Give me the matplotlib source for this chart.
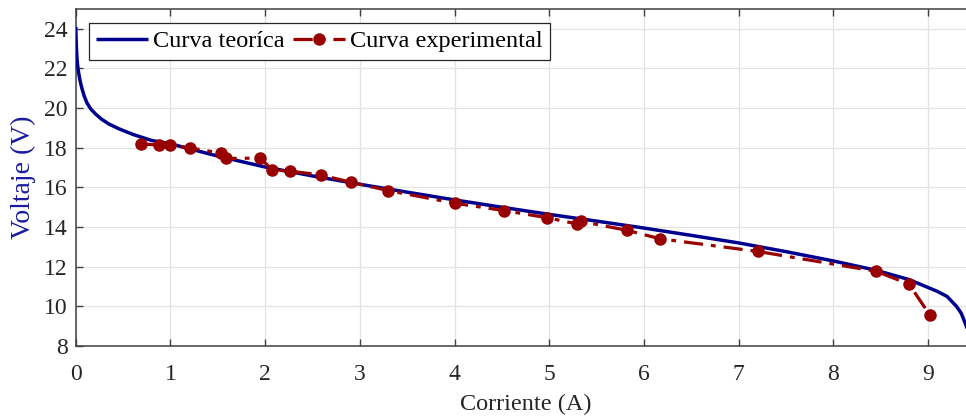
import matplotlib
matplotlib.use("Agg")
import matplotlib.pyplot as plt

# Theoretical curve
theo_x = [0, 0.003, 0.007, 0.012, 0.02, 0.03, 0.045, 0.065, 0.09, 0.12, 0.16, 0.21, 0.27, 0.35,
          0.45, 0.6, 0.8, 1.0, 1.5, 2.0, 2.5, 3.0, 3.5, 4.0, 4.5, 5.0, 5.5, 6.0, 6.5, 7.0, 7.5, 8.0,
          8.45, 8.8, 9.0, 9.1, 9.2, 9.3, 9.35, 9.4, 9.45]
theo_y = [24.1, 23.6, 23.1, 22.6, 22.15, 21.8, 21.4, 21.0, 20.6, 20.25, 19.95, 19.7, 19.45, 19.2,
          18.97, 18.68, 18.37, 18.2, 17.58, 17.03, 16.58, 16.16, 15.76, 15.37, 15.0, 14.64, 14.3, 13.95, 13.58, 13.2, 12.76, 12.29,
          11.82, 11.35, 10.95, 10.75, 10.5, 10.0, 9.65, 9.05, 8.3]

# Experimental points
exp_x = [0.686, 0.878, 0.996, 1.207, 1.531, 1.584, 1.949, 2.073, 2.263, 2.587, 2.907,
         3.301, 4.005, 4.526, 4.979, 5.290, 5.333, 5.825, 6.170, 7.202, 8.451, 8.799, 9.021]
exp_y = [18.19, 18.14, 18.14, 17.99, 17.73, 17.46, 17.48, 16.89, 16.82, 16.63, 16.26,
         15.84, 15.20, 14.83, 14.47, 14.16, 14.29, 13.83, 13.41, 12.77, 11.77, 11.12, 9.54]

x_ticks = [0, 1, 2, 3, 4, 5, 6, 7, 8, 9]
y_ticks = [8, 10, 12, 14, 16, 18, 20, 22, 24]

plt.rcParams['font.family'] = ['Liberation Serif', 'DejaVu Serif']

fig = plt.figure(figsize=(9.66, 4.19), dpi=100)
ax = fig.add_axes([0.0784, 0.1742, 1.0 - 0.0784, 0.9785 - 0.1742])

ax.plot(theo_x, theo_y, color='#00008f', lw=2.5, label='Curva teoríca', zorder=3,
        solid_capstyle='butt')
ax.plot(exp_x, exp_y, color='#990000', lw=2.3, ls='-.', marker='o', markersize=8,
        label='Curva experimental', zorder=4, dashes=(6, 2.5, 1.5, 2.5))

ax.set_xlim(0, 9.40)
ax.set_ylim(8, 25)
ax.set_xticks(x_ticks)
ax.set_yticks(y_ticks)
ax.grid(True, color='#e3e3e3', lw=0.9)
ax.set_axisbelow(True)

ax.tick_params(direction='in', length=5, width=1, colors='#404040', labelsize=17,
               labelcolor='#262626', top=True, right=False)
ax.tick_params(axis='x', pad=13)
ax.tick_params(axis='y', pad=6)
for s in ['left', 'bottom', 'top']:
    ax.spines[s].set_color('#404040')
    ax.spines[s].set_linewidth(1.1)
ax.spines['right'].set_visible(False)

ax.set_xlabel('Corriente (A)', fontsize=17.5, color='#262626', labelpad=0)
ax.xaxis.set_label_coords((526 - 75.7) / (966 - 75.7), -0.142)
ax.set_ylabel('Voltaje (V)', fontsize=20, color='#1a1aa0', labelpad=4)
ax.yaxis.set_label_coords(-0.0446, 0.5)

leg = ax.legend(loc='upper left', ncol=2, fontsize=17.5, frameon=True, fancybox=False,
                edgecolor='#262626', framealpha=1, handlelength=2.15, handletextpad=0.2,
                columnspacing=0.35, borderpad=0.3, bbox_to_anchor=(0.0145, 0.958),
                borderaxespad=0)
leg.get_frame().set_linewidth(0.9)

fig.savefig('out.png', dpi=100)
